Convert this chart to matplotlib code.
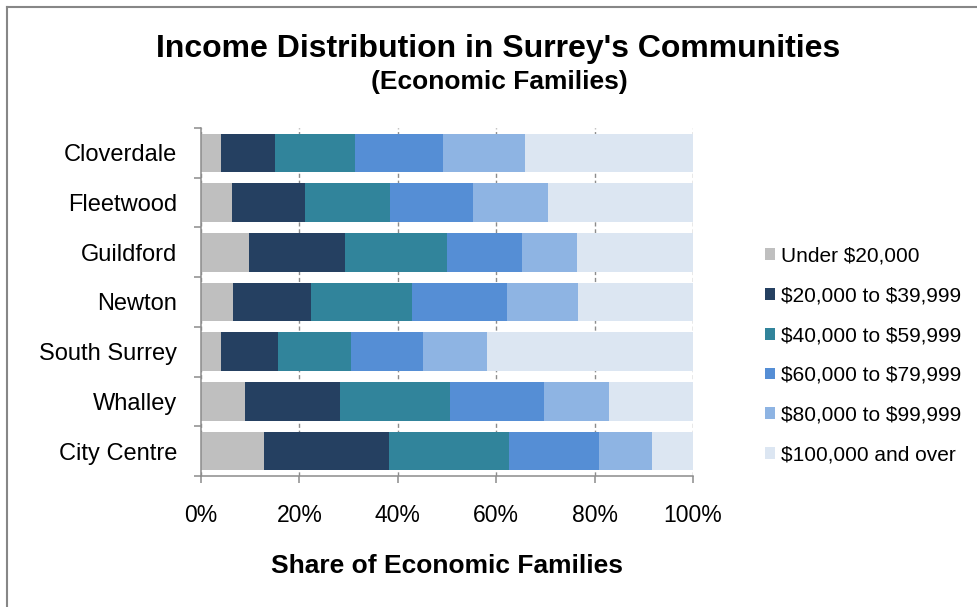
import matplotlib
matplotlib.use('Agg')
import matplotlib.pyplot as plt
import numpy as np
from matplotlib.lines import Line2D

plt.rcParams['font.family'] = ['Liberation Sans', 'DejaVu Sans']
plt.rcParams['text.parse_math'] = False

communities = ['Cloverdale', 'Fleetwood', 'Guildford', 'Newton', 'South Surrey', 'Whalley', 'City Centre']
series_labels = ['Under $20,000', '$20,000 to $39,999', '$40,000 to $59,999',
                 '$60,000 to $79,999', '$80,000 to $99,999', '$100,000 and over']
under_20k = [4.1, 6.2, 9.8, 6.6, 4.1, 9.0, 12.8]
k20_40 = [10.9, 15.0, 19.5, 15.7, 11.5, 19.3, 25.5]
k40_60 = [16.3, 17.3, 20.6, 20.5, 14.9, 22.4, 24.4]
k60_80 = [17.9, 16.8, 15.4, 19.3, 14.6, 19.1, 18.1]
k80_100 = [16.7, 15.3, 11.2, 14.5, 13.0, 13.2, 10.9]
k100_plus = [34.1, 29.4, 23.5, 23.4, 41.9, 17.0, 8.3]
x_ticks = [0, 20, 40, 60, 80, 100]
x_tick_labels = ['0%', '20%', '40%', '60%', '80%', '100%']

colors = ['#BFBFBF', '#254061', '#31849B', '#558ED5', '#8EB4E3', '#DCE6F2']
series = [under_20k, k20_40, k40_60, k60_80, k80_100, k100_plus]

W, H = 977, 607
fig = plt.figure(figsize=(W / 100, H / 100), dpi=100)
ax = fig.add_axes([201 / W, 1 - 476 / H, 492 / W, 348 / H])

y = np.arange(len(communities))
left = np.zeros(len(communities))
for vals, c, lab in zip(series, colors, series_labels):
    vals = np.array(vals, dtype=float)
    ax.barh(y, vals, left=left, height=0.773, color=c, label=lab, zorder=2, linewidth=0)
    left += vals

ax.set_xlim(0, 100)
ax.set_ylim(len(communities) - 0.5, -0.5)

gray = '#8C8C8C'
ax.set_axisbelow(True)
ax.grid(axis='x', color=gray, linestyle=(0, (3, 2)), linewidth=1.0, zorder=0)
for s in ['top', 'right']:
    ax.spines[s].set_visible(False)
for s in ['left', 'bottom']:
    ax.spines[s].set_color(gray)
    ax.spines[s].set_linewidth(1.1)

ax.set_yticks(y)
ax.set_yticklabels(communities, fontsize=17)
ax.tick_params(axis='y', which='major', length=0, pad=17)
ax.set_yticks(np.arange(-0.5, len(communities), 1.0), minor=True)
ax.tick_params(axis='y', which='minor', length=5, width=1.1, color=gray, direction='out')

ax.set_xticks(x_ticks)
ax.set_xticklabels(x_tick_labels, fontsize=16.5)
ax.tick_params(axis='x', which='major', length=5, width=1.1, color=gray, direction='out', pad=15)

fig.text(447 / W, 1 - 572.7 / H, 'Share of Economic Families', ha='center', va='baseline',
         fontsize=19, fontweight='bold')
fig.text(498 / W, 1 - 56.7 / H, "Income Distribution in Surrey's Communities", ha='center',
         va='baseline', fontsize=23, fontweight='bold')
fig.text(499 / W, 1 - 89 / H, '(Economic Families)', ha='center', va='baseline',
         fontsize=19, fontweight='bold')

ax.legend(loc='center left', bbox_to_anchor=(765 / W, 1 - 355.5 / H), bbox_transform=fig.transFigure,
          frameon=False, fontsize=15, handlelength=0.5, handleheight=0.5, handletextpad=0.25,
          labelspacing=1.0, borderpad=0, borderaxespad=0)

fig.add_artist(Line2D([7.3 / W, 7.3 / W], [0, 1 - 7.3 / H], color='#878787', lw=1.5,
                      transform=fig.transFigure))
fig.add_artist(Line2D([7.3 / W, 1], [1 - 7.3 / H, 1 - 7.3 / H], color='#878787', lw=1.5,
                      transform=fig.transFigure))

fig.savefig('out.png', dpi=100)
